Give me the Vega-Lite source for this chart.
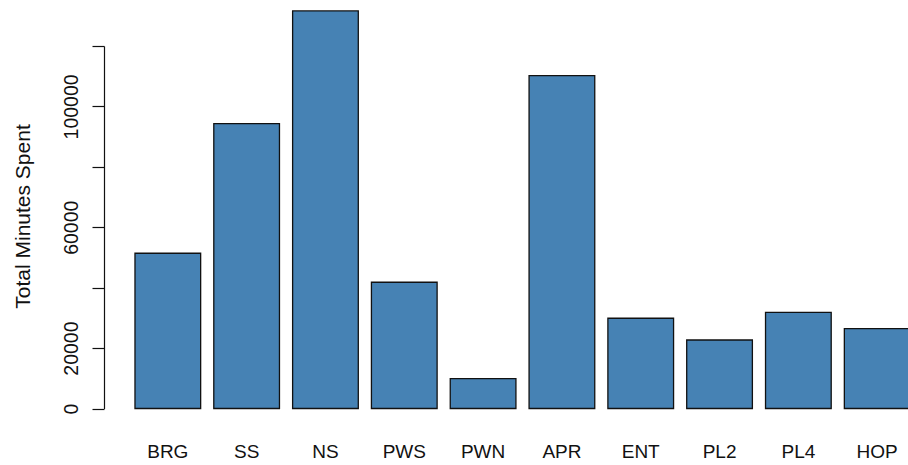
{
  "$schema": "https://vega.github.io/schema/vega-lite/v6.json",
  "width": 804,
  "height": 362.5,
  "autosize": {"type": "none"},
  "padding": {"left": 104, "top": 46, "right": 0, "bottom": 56.5},
  "background": "white",
  "config": {
    "view": {"stroke": null},
    "font": "Liberation Sans"
  },
  "data": {
    "values": [
      {"category": "BRG", "minutes": 51390},
      {"category": "SS", "minutes": 94300},
      {"category": "NS", "minutes": 131600},
      {"category": "PWS", "minutes": 41790},
      {"category": "PWN", "minutes": 9870},
      {"category": "APR", "minutes": 110190},
      {"category": "ENT", "minutes": 29870},
      {"category": "PL2", "minutes": 22680},
      {"category": "PL4", "minutes": 31850},
      {"category": "HOP", "minutes": 26420}
    ]
  },
  "mark": {"type": "bar", "fill": "#4682B4", "stroke": "#111111", "strokeWidth": 1.3},
  "encoding": {
    "x": {
      "field": "category",
      "type": "nominal",
      "sort": null,
      "scale": {"range": [0, 837], "paddingInner": 0.1667, "paddingOuter": 0.393},
      "axis": {
        "title": null,
        "domain": false,
        "ticks": false,
        "tickSize": 0,
        "labelAngle": 0,
        "labelFontSize": 19,
        "labelColor": "#111111",
        "labelBaseline": "alphabetic",
        "labelPadding": 49
      }
    },
    "y": {
      "field": "minutes",
      "type": "quantitative",
      "scale": {"domain": [0, 120000], "nice": false},
      "axis": {
        "title": "Total Minutes Spent",
        "values": [0, 20000, 40000, 60000, 80000, 100000, 120000],
        "format": "d",
        "labelExpr": "indexof([0, 20000, 60000, 100000], datum.value) >= 0 ? datum.label : ''",
        "grid": false,
        "domainColor": "#111111",
        "domainWidth": 1.2,
        "tickColor": "#111111",
        "tickWidth": 1.2,
        "tickSize": 12,
        "labelAngle": 270,
        "labelAlign": "center",
        "labelBaseline": "bottom",
        "labelPadding": 11,
        "labelFontSize": 19.5,
        "labelColor": "#111111",
        "labelOverlap": false,
        "titleFontSize": 21,
        "titleFontWeight": "normal",
        "titleColor": "#111111",
        "titleAngle": 270,
        "titleAlign": "center",
        "titleBaseline": "alphabetic",
        "titleX": -75,
        "titleY": 170
      }
    }
  }
}
